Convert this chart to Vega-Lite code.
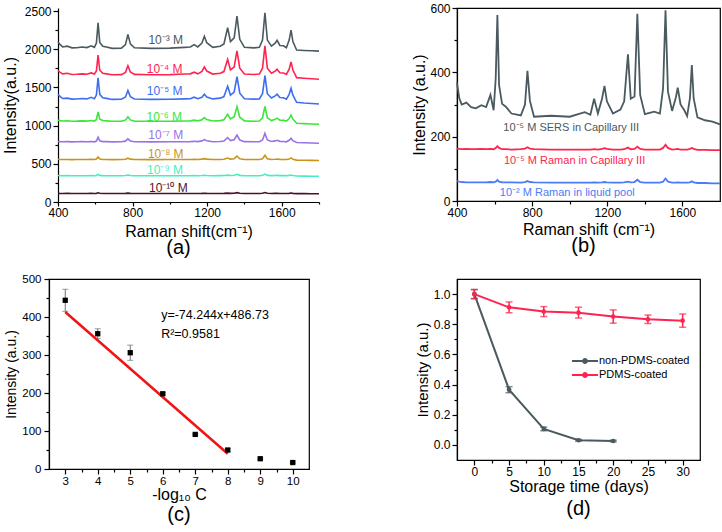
{
  "$schema": "https://vega.github.io/schema/vega-lite/v6.json",
  "padding": {"left": 2, "top": 1, "right": 0, "bottom": 0},
  "background": "white",
  "config": {
    "font": "Liberation Sans",
    "view": {"stroke": "black", "strokeWidth": 1.2},
    "axis": {"grid": false, "labelFlush": false, "labelOverlap": false, "domainColor": "black", "domainWidth": 1.2, "tickColor": "black", "tickWidth": 1.2, "labelColor": "black", "titleColor": "black", "titleFontWeight": "normal", "labelFont": "Liberation Sans", "titleFont": "Liberation Sans"},
    "title": {"fontWeight": "normal", "color": "black", "font": "Liberation Sans"},
    "legend": {"labelFont": "Liberation Sans", "labelColor": "black"}
  },
  "datasets": {
    "spec": [
      {"x":400,"a1":2095,"a2":1720,"a3":1409,"a4":1070,"a5":793,"a6":560,"a7":346,"a8":113,"b1":368,"b2":163,"b3":62},
      {"x":412,"a1":2060,"a2":1698,"a3":1380,"a4":1065,"a5":790,"a6":557,"a7":345,"a8":112,"b1":320,"b2":162,"b3":60},
      {"x":425,"a1":2030,"a2":1678,"a3":1355,"a4":1060,"a5":788,"a6":556,"a7":344,"a8":112,"b1":300,"b2":161,"b3":59},
      {"x":450,"a1":2040,"a2":1685,"a3":1360,"a4":1064,"a5":790,"a6":557,"a7":345,"a8":113,"b1":306,"b2":162,"b3":58},
      {"x":475,"a1":2018,"a2":1670,"a3":1347,"a4":1058,"a5":787,"a6":555,"a7":344,"a8":112,"b1":292,"b2":161,"b3":58},
      {"x":500,"a1":2020,"a2":1672,"a3":1348,"a4":1059,"a5":788,"a6":556,"a7":343,"a8":111,"b1":288,"b2":161,"b3":58},
      {"x":530,"a1":2030,"a2":1678,"a3":1355,"a4":1062,"a5":790,"a6":557,"a7":344,"a8":112,"b1":298,"b2":162,"b3":58},
      {"x":555,"a1":2022,"a2":1672,"a3":1350,"a4":1059,"a5":788,"a6":556,"a7":344,"a8":112,"b1":292,"b2":161,"b3":58},
      {"x":578,"a1":2045,"a2":1690,"a3":1370,"a4":1066,"a5":792,"a6":558,"a7":345,"a8":113,"b1":330,"b2":162,"b3":59},
      {"x":595,"a1":2025,"a2":1675,"a3":1352,"a4":1060,"a5":788,"a6":556,"a7":344,"a8":112,"b1":282,"b2":161,"b3":58},
      {"x":606,"a1":2080,"a2":1716,"a3":1400,"a4":1080,"a5":798,"a6":562,"a7":347,"a8":113,"b1":380,"b2":165,"b3":60},
      {"x":615,"a1":2345,"a2":1924,"a3":1627,"a4":1178,"a5":848,"a6":590,"a7":361,"a8":120,"b1":578,"b2":170,"b3":65},
      {"x":624,"a1":2090,"a2":1725,"a3":1410,"a4":1085,"a5":800,"a6":563,"a7":348,"a8":114,"b1":360,"b2":165,"b3":60},
      {"x":640,"a1":2040,"a2":1685,"a3":1365,"a4":1066,"a5":791,"a6":557,"a7":345,"a8":112,"b1":302,"b2":161,"b3":58},
      {"x":660,"a1":2030,"a2":1678,"a3":1357,"a4":1062,"a5":790,"a6":557,"a7":344,"a8":112,"b1":293,"b2":161,"b3":58},
      {"x":690,"a1":2012,"a2":1666,"a3":1343,"a4":1057,"a5":787,"a6":555,"a7":343,"a8":111,"b1":272,"b2":160,"b3":58},
      {"x":740,"a1":2015,"a2":1668,"a3":1345,"a4":1058,"a5":788,"a6":556,"a7":344,"a8":112,"b1":266,"b2":161,"b3":57},
      {"x":762,"a1":2060,"a2":1697,"a3":1374,"a4":1072,"a5":797,"a6":560,"a7":346,"a8":113,"b1":300,"b2":163,"b3":59},
      {"x":775,"a1":2195,"a2":1783,"a3":1460,"a4":1115,"a5":826,"a6":574,"a7":353,"a8":116,"b1":405,"b2":167,"b3":62},
      {"x":788,"a1":2070,"a2":1703,"a3":1380,"a4":1075,"a5":799,"a6":561,"a7":347,"a8":113,"b1":312,"b2":163,"b3":59},
      {"x":810,"a1":2020,"a2":1671,"a3":1348,"a4":1059,"a5":788,"a6":556,"a7":344,"a8":112,"b1":262,"b2":161,"b3":58},
      {"x":900,"a1":2012,"a2":1666,"a3":1343,"a4":1057,"a5":787,"a6":555,"a7":343,"a8":111,"b1":265,"b2":160,"b3":57},
      {"x":1000,"a1":2015,"a2":1668,"a3":1345,"a4":1058,"a5":788,"a6":556,"a7":344,"a8":112,"b1":262,"b2":160,"b3":57},
      {"x":1080,"a1":2025,"a2":1675,"a3":1350,"a4":1061,"a5":789,"a6":556,"a7":344,"a8":112,"b1":276,"b2":160,"b3":57},
      {"x":1110,"a1":2030,"a2":1678,"a3":1352,"a4":1062,"a5":790,"a6":557,"a7":344,"a8":112,"b1":268,"b2":160,"b3":57},
      {"x":1130,"a1":2060,"a2":1700,"a3":1372,"a4":1072,"a5":795,"a6":559,"a7":345,"a8":112,"b1":318,"b2":161,"b3":58},
      {"x":1150,"a1":2030,"a2":1678,"a3":1352,"a4":1062,"a5":790,"a6":557,"a7":344,"a8":112,"b1":272,"b2":160,"b3":57},
      {"x":1172,"a1":2080,"a2":1710,"a3":1372,"a4":1078,"a5":800,"a6":561,"a7":346,"a8":113,"b1":318,"b2":162,"b3":58},
      {"x":1185,"a1":2170,"a2":1768,"a3":1410,"a4":1106,"a5":817,"a6":568,"a7":351,"a8":115,"b1":358,"b2":164,"b3":59},
      {"x":1198,"a1":2085,"a2":1714,"a3":1375,"a4":1080,"a5":801,"a6":561,"a7":347,"a8":113,"b1":310,"b2":162,"b3":58},
      {"x":1230,"a1":2025,"a2":1675,"a3":1350,"a4":1061,"a5":789,"a6":556,"a7":344,"a8":112,"b1":272,"b2":160,"b3":57},
      {"x":1270,"a1":2040,"a2":1686,"a3":1360,"a4":1066,"a5":792,"a6":557,"a7":345,"a8":112,"b1":284,"b2":160,"b3":57},
      {"x":1290,"a1":2070,"a2":1708,"a3":1380,"a4":1076,"a5":799,"a6":559,"a7":346,"a8":113,"b1":310,"b2":161,"b3":58},
      {"x":1310,"a1":2282,"a2":1868,"a3":1515,"a4":1149,"a5":844,"a6":576,"a7":352,"a8":116,"b1":456,"b2":166,"b3":60},
      {"x":1325,"a1":2100,"a2":1730,"a3":1400,"a4":1088,"a5":805,"a6":562,"a7":347,"a8":113,"b1":318,"b2":161,"b3":58},
      {"x":1345,"a1":2150,"a2":1768,"a3":1440,"a4":1118,"a5":816,"a6":567,"a7":350,"a8":115,"b1":325,"b2":162,"b3":59},
      {"x":1360,"a1":2435,"a2":1978,"a3":1640,"a4":1248,"a5":876,"a6":602,"a7":362,"a8":122,"b1":582,"b2":169,"b3":66},
      {"x":1375,"a1":2130,"a2":1752,"a3":1425,"a4":1110,"a5":812,"a6":566,"a7":349,"a8":114,"b1":330,"b2":162,"b3":59},
      {"x":1400,"a1":2025,"a2":1675,"a3":1352,"a4":1062,"a5":790,"a6":557,"a7":344,"a8":112,"b1":270,"b2":160,"b3":57},
      {"x":1450,"a1":2018,"a2":1670,"a3":1347,"a4":1058,"a5":788,"a6":556,"a7":344,"a8":112,"b1":278,"b2":160,"b3":57},
      {"x":1480,"a1":2025,"a2":1675,"a3":1350,"a4":1061,"a5":789,"a6":556,"a7":344,"a8":112,"b1":272,"b2":160,"b3":57},
      {"x":1497,"a1":2120,"a2":1752,"a3":1418,"a4":1103,"a5":812,"a6":566,"a7":349,"a8":114,"b1":350,"b2":165,"b3":60},
      {"x":1510,"a1":2478,"a2":2043,"a3":1655,"a4":1250,"a5":898,"a6":611,"a7":366,"a8":124,"b1":593,"b2":175,"b3":70},
      {"x":1523,"a1":2120,"a2":1752,"a3":1418,"a4":1103,"a5":812,"a6":566,"a7":349,"a8":114,"b1":340,"b2":165,"b3":60},
      {"x":1545,"a1":2040,"a2":1686,"a3":1362,"a4":1066,"a5":792,"a6":557,"a7":345,"a8":112,"b1":280,"b2":160,"b3":57},
      {"x":1565,"a1":2080,"a2":1714,"a3":1390,"a4":1082,"a5":800,"a6":560,"a7":346,"a8":113,"b1":322,"b2":161,"b3":57},
      {"x":1575,"a1":2116,"a2":1738,"a3":1412,"a4":1098,"a5":808,"a6":563,"a7":348,"a8":114,"b1":352,"b2":162,"b3":58},
      {"x":1590,"a1":2050,"a2":1692,"a3":1368,"a4":1072,"a5":794,"a6":558,"a7":345,"a8":112,"b1":300,"b2":160,"b3":57},
      {"x":1610,"a1":2045,"a2":1688,"a3":1365,"a4":1070,"a5":793,"a6":557,"a7":345,"a8":112,"b1":282,"b2":160,"b3":57},
      {"x":1625,"a1":2020,"a2":1670,"a3":1347,"a4":1059,"a5":788,"a6":556,"a7":344,"a8":112,"b1":264,"b2":160,"b3":57},
      {"x":1640,"a1":2120,"a2":1740,"a3":1410,"a4":1092,"a5":808,"a6":562,"a7":348,"a8":113,"b1":320,"b2":162,"b3":58},
      {"x":1650,"a1":2250,"a2":1835,"a3":1490,"a4":1138,"a5":835,"a6":577,"a7":354,"a8":118,"b1":423,"b2":165,"b3":61},
      {"x":1660,"a1":2100,"a2":1728,"a3":1398,"a4":1085,"a5":803,"a6":561,"a7":347,"a8":113,"b1":318,"b2":162,"b3":58},
      {"x":1680,"a1":1990,"a2":1628,"a3":1305,"a4":1030,"a5":778,"a6":548,"a7":340,"a8":110,"b1":260,"b2":159,"b3":56},
      {"x":1720,"a1":1984,"a2":1620,"a3":1296,"a4":1026,"a5":775,"a6":546,"a7":339,"a8":110,"b1":251,"b2":159,"b3":56},
      {"x":1760,"a1":1980,"a2":1614,"a3":1290,"a4":1022,"a5":772,"a6":545,"a7":338,"a8":109,"b1":247,"b2":158,"b3":55},
      {"x":1800,"a1":1975,"a2":1608,"a3":1284,"a4":1018,"a5":770,"a6":543,"a7":337,"a8":109,"b1":238,"b2":158,"b3":55}
    ],
    "alab": [
      {"x": 978, "y": 2120, "t": "10⁻³ M", "s": "a1"},
      {"x": 972, "y": 1745, "t": "10⁻⁴ M", "s": "a2"},
      {"x": 972, "y": 1453, "t": "10⁻⁵ M", "s": "a3"},
      {"x": 970, "y": 1117, "t": "10⁻⁶ M", "s": "a4"},
      {"x": 978, "y": 873, "t": "10⁻⁷ M", "s": "a5"},
      {"x": 978, "y": 624, "t": "10⁻⁸ M", "s": "a6"},
      {"x": 974, "y": 414, "t": "10⁻⁹ M", "s": "a7"},
      {"x": 992, "y": 179, "t": "10⁻¹⁰ M", "s": "a8"}
    ],
    "blab": [
      {"x": 1008, "y": 227, "t": "10⁻⁵ M SERS in Capillary III", "s": "b1"},
      {"x": 1026, "y": 123, "t": "10⁻⁵ M Raman in Capillary III", "s": "b2"},
      {"x": 987, "y": 26, "t": "10⁻² M Raman in liquid pool", "s": "b3"}
    ],
    "cpts": [
      {"x": 3, "y": 444, "e": 29},
      {"x": 4, "y": 356, "e": 13},
      {"x": 5, "y": 306, "e": 20},
      {"x": 6, "y": 198, "e": 3},
      {"x": 7, "y": 91, "e": 2},
      {"x": 8, "y": 50, "e": 4},
      {"x": 9, "y": 27, "e": 2},
      {"x": 10, "y": 17, "e": 2}
    ],
    "cfit": [
      {"x": 3, "y": 413},
      {"x": 8, "y": 40}
    ],
    "ctext": [
      {"x": 5.95, "y": 406, "t": "y=-74.244x+486.73"},
      {"x": 5.95, "y": 354, "t": "R²=0.9581"}
    ],
    "dd": [
      {"g": "non-PDMS-coated", "t": 0, "v": 1.0, "e": 0.03},
      {"g": "non-PDMS-coated", "t": 5, "v": 0.366, "e": 0.02},
      {"g": "non-PDMS-coated", "t": 10, "v": 0.106, "e": 0.012},
      {"g": "non-PDMS-coated", "t": 15, "v": 0.031, "e": 0.006},
      {"g": "non-PDMS-coated", "t": 20, "v": 0.026, "e": 0.005},
      {"g": "PDMS-coated", "t": 0, "v": 1.0, "e": 0.03},
      {"g": "PDMS-coated", "t": 5, "v": 0.912, "e": 0.036},
      {"g": "PDMS-coated", "t": 10, "v": 0.884, "e": 0.033},
      {"g": "PDMS-coated", "t": 15, "v": 0.877, "e": 0.036},
      {"g": "PDMS-coated", "t": 20, "v": 0.851, "e": 0.044},
      {"g": "PDMS-coated", "t": 25, "v": 0.833, "e": 0.028},
      {"g": "PDMS-coated", "t": 30, "v": 0.824, "e": 0.044}
    ]
  },
  "spacing": 88,
  "resolve": {"scale": {"color": "independent"}, "legend": {"color": "independent"}},
  "hconcat": [
    {
      "spacing": 14,
      "resolve": {"scale": {"color": "independent"}, "legend": {"color": "independent"}},
      "vconcat": [
        {
          "hconcat": [
            {"width": 9, "height": 1, "data": {"values": []}, "mark": "point", "view": {"stroke": null}},
            {
              "width": 261, "height": 194,
              "view": {"stroke": null},
              "title": {"text": "(a)", "orient": "bottom", "fontSize": 20, "offset": -1, "frame": "group", "dx": -10},
              "layer": [
                {
                  "data": {"name": "spec"},
                  "transform": [{"fold": ["a1","a2","a3","a4","a5","a6","a7","a8"], "as": ["s", "v"]}],
                  "mark": {"type": "line", "strokeWidth": 1.6},
                  "encoding": {
                    "x": {"field": "x", "type": "quantitative", "scale": {"domain": [400, 1800], "nice": false},
                          "axis": {"orient": "bottom", "values": [400, 800, 1200, 1600], "format": "d", "title": "Raman shift(cm⁻¹)", "titleFontSize": 16, "labelFontSize": 12, "tickSize": 4, "labelPadding": 1, "titlePadding": 5}},
                    "y": {"field": "v", "type": "quantitative", "scale": {"domain": [0, 2540], "nice": false, "zero": false},
                          "axis": {"orient": "left", "values": [0, 500, 1000, 1500, 2000, 2500], "format": "d", "title": "Intensity(a.u.)", "titleFontSize": 16, "labelFontSize": 12, "tickSize": 5, "labelPadding": 2, "titlePadding": 6}},
                    "color": {"field": "s", "type": "nominal", "legend": null,
                              "scale": {"domain": ["a1","a2","a3","a4","a5","a6","a7","a8"], "range": ["#4a5a5e", "#ff2450", "#3d6ef2", "#3ce63a", "#9a72e8", "#c8941c", "#45eebe", "#4c1030"]}}
                  }
                },
                {
                  "data": {"name": "alab"},
                  "mark": {"type": "text", "fontSize": 12},
                  "encoding": {
                    "x": {"field": "x", "type": "quantitative", "axis": {"orient": "bottom", "values": [600, 1000, 1400, 1800], "labels": false, "domain": false, "tickSize": 2, "title": null}},
                    "y": {"field": "y", "type": "quantitative", "axis": {"orient": "left", "values": [250, 750, 1250, 1750, 2250], "labels": false, "domain": false, "tickSize": 3, "title": null}},
                    "text": {"field": "t"},
                    "color": {"field": "s", "type": "nominal", "legend": null}
                  }
                }
              ],
              "resolve": {"axis": {"x": "independent", "y": "independent"}}
            }
          ],
          "spacing": 0,
          "bounds": "flush"
        },
        {
          "width": 260, "height": 190,
          "title": {"text": "(c)", "orient": "bottom", "fontSize": 20, "offset": 2, "frame": "group"},
          "layer": [
            {
              "data": {"name": "cpts"},
              "mark": {"type": "errorbar", "ticks": {"size": 6}, "color": "#707070", "thickness": 1},
              "encoding": {
                "x": {"field": "x", "type": "quantitative", "scale": {"domain": [2.5, 10.5], "nice": false},
                      "axis": {"orient": "bottom", "values": [3, 4, 5, 6, 7, 8, 9, 10], "title": "-log₁₀ C", "titleFontSize": 16, "labelFontSize": 11.5, "tickSize": 5, "labelPadding": 1, "titlePadding": 0}},
                "y": {"field": "y", "type": "quantitative", "scale": {"domain": [0, 500], "nice": false},
                      "axis": {"orient": "left", "values": [0, 100, 200, 300, 400, 500], "title": "Intensity (a.u.)", "titleFontSize": 14, "labelFontSize": 11.5, "tickSize": 5, "labelPadding": 3, "titlePadding": 3}},
                "yError": {"field": "e"}
              }
            },
            {
              "data": {"name": "cfit"},
              "mark": {"type": "line", "color": "#f01414", "strokeWidth": 2.5},
              "encoding": {
                "x": {"field": "x", "type": "quantitative", "axis": null},
                "y": {"field": "y", "type": "quantitative", "axis": null}
              }
            },
            {
              "data": {"name": "cpts"},
              "mark": {"type": "square", "filled": true, "color": "black", "size": 28, "opacity": 1},
              "encoding": {
                "x": {"field": "x", "type": "quantitative", "axis": null},
                "y": {"field": "y", "type": "quantitative", "axis": null}
              }
            },
            {
              "data": {"name": "ctext"},
              "mark": {"type": "text", "align": "left", "fontSize": 12.5, "color": "black"},
              "encoding": {
                "x": {"field": "x", "type": "quantitative", "axis": {"orient": "bottom", "values": [3.5, 4.5, 5.5, 6.5, 7.5, 8.5, 9.5], "labels": false, "domain": false, "tickSize": 3, "title": null}},
                "y": {"field": "y", "type": "quantitative", "axis": {"orient": "left", "values": [50, 150, 250, 350, 450], "labels": false, "domain": false, "tickSize": 3, "title": null}},
                "text": {"field": "t"}
              }
            }
          ],
          "resolve": {"axis": {"x": "independent", "y": "independent"}}
        }
      ]
    },
    {
      "spacing": 21,
      "resolve": {"scale": {"color": "independent"}, "legend": {"color": "independent"}},
      "vconcat": [
        {
          "width": 263, "height": 193,
          "title": {"text": "(b)", "orient": "bottom", "fontSize": 20, "offset": -1, "frame": "group", "dx": -5},
          "layer": [
            {
              "data": {"name": "spec"},
              "transform": [{"fold": ["b1","b2","b3"], "as": ["s", "v"]}],
              "mark": {"type": "line", "strokeWidth": 1.8},
              "encoding": {
                "x": {"field": "x", "type": "quantitative", "scale": {"domain": [400, 1800], "nice": false},
                      "axis": {"orient": "bottom", "values": [400, 800, 1200, 1600], "format": "d", "title": "Raman shift (cm⁻¹)", "titleFontSize": 16, "labelFontSize": 12, "tickSize": 5, "labelPadding": 1, "titlePadding": 3}},
                "y": {"field": "v", "type": "quantitative", "scale": {"domain": [0, 600], "nice": false},
                      "axis": {"orient": "left", "values": [0, 200, 400, 600], "title": "Intensity (a.u.)", "titleFontSize": 16, "labelFontSize": 12, "tickSize": 5, "labelPadding": 2, "titlePadding": 2}},
                "color": {"field": "s", "type": "nominal", "legend": null,
                          "scale": {"domain": ["b1","b2","b3"], "range": ["#4a5a5e", "#ff2450", "#4a7cf6"]}}
              }
            },
            {
              "data": {"name": "blab"},
              "mark": {"type": "text", "fontSize": 11},
              "encoding": {
                "x": {"field": "x", "type": "quantitative", "axis": {"orient": "bottom", "values": [600, 1000, 1400], "labels": false, "domain": false, "tickSize": 3, "title": null}},
                "y": {"field": "y", "type": "quantitative", "axis": {"orient": "left", "values": [100, 300, 500], "labels": false, "domain": false, "tickSize": 3, "title": null}},
                "text": {"field": "t"},
                "color": {"field": "s", "type": "nominal", "legend": null}
              }
            }
          ],
          "resolve": {"axis": {"x": "independent", "y": "independent"}}
        },
        {
          "width": 243, "height": 181,
          "title": {"text": "(d)", "orient": "bottom", "fontSize": 20, "offset": 5, "frame": "group"},
          "layer": [
            {
              "data": {"name": "dd"},
              "mark": {"type": "line", "strokeWidth": 2},
              "encoding": {
                "x": {"field": "t", "type": "quantitative", "scale": {"domain": [-2.5, 32.5], "nice": false},
                      "axis": {"orient": "bottom", "values": [0, 5, 10, 15, 20, 25, 30], "title": "Storage time (days)", "titleFontSize": 16, "labelFontSize": 12, "tickSize": 5, "labelPadding": 1, "titlePadding": 1}},
                "y": {"field": "v", "type": "quantitative", "scale": {"domain": [-0.1, 1.1], "nice": false, "zero": false},
                      "axis": {"orient": "left", "values": [0, 0.2, 0.4, 0.6, 0.8, 1.0], "format": ".1f", "title": "Intensity (a.u.)", "titleFontSize": 15, "labelFontSize": 12, "tickSize": 5, "labelPadding": 2, "titlePadding": 3}},
                "color": {"field": "g", "type": "nominal",
                          "scale": {"domain": ["non-PDMS-coated", "PDMS-coated"], "range": ["#4a5a5e", "#ff2450"]},
                          "legend": {"orient": "none", "legendX": 120, "legendY": 74, "padding": 0, "title": null, "symbolType": "M-2,0L2,0M-0.3,0a0.3,0.3 0 1,0 0.6,0a0.3,0.3 0 1,0 -0.6,0", "symbolSize": 170, "symbolStrokeWidth": 2, "labelFontSize": 11, "rowPadding": -4, "labelOffset": 6}}
              }
            },
            {
              "data": {"name": "dd"},
              "mark": {"type": "errorbar", "ticks": {"size": 7}, "thickness": 1.5},
              "encoding": {
                "x": {"field": "t", "type": "quantitative", "axis": null},
                "y": {"field": "v", "type": "quantitative", "axis": null},
                "yError": {"field": "e"},
                "color": {"field": "g", "type": "nominal", "legend": null}
              }
            },
            {
              "data": {"name": "dd"},
              "mark": {"type": "circle", "size": 22, "opacity": 1},
              "encoding": {
                "x": {"field": "t", "type": "quantitative", "axis": {"orient": "bottom", "values": [2.5, 7.5, 12.5, 17.5, 22.5, 27.5], "labels": false, "domain": false, "tickSize": 3, "title": null}},
                "y": {"field": "v", "type": "quantitative", "axis": {"orient": "left", "values": [0.1, 0.3, 0.5, 0.7, 0.9], "labels": false, "domain": false, "tickSize": 3, "title": null}},
                "color": {"field": "g", "type": "nominal", "legend": null}
              }
            }
          ],
          "resolve": {"axis": {"x": "independent", "y": "independent"}}
        }
      ]
    }
  ]
}
